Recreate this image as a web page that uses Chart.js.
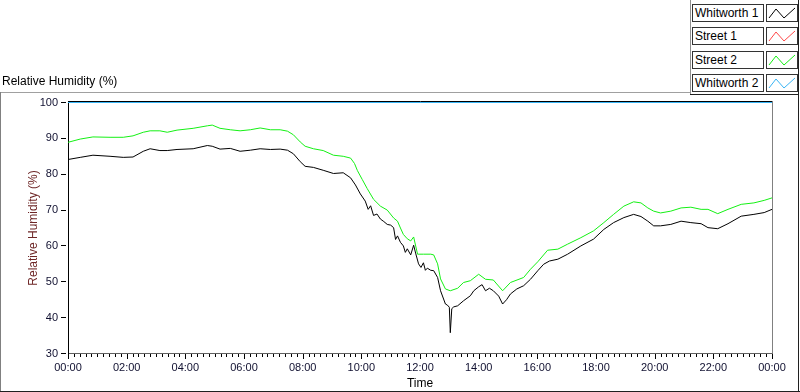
<!DOCTYPE html>
<html>
<head>
<meta charset="utf-8">
<script src="https://cdn.jsdelivr.net/npm/chart.js@4.4.1/dist/chart.umd.min.js"></script>
<style>
  html, body { margin:0; padding:0; background:#fff; }
  #wrap { position:relative; width:800px; height:392px; overflow:hidden; background:#fff; font-family:"Liberation Sans", Arial, sans-serif; }
  #c { position:absolute; left:0; top:0; }
  #title { position:absolute; left:2px; top:74px; font-size:12px; color:#000; white-space:nowrap; }
  .ln { position:absolute; }
  #legend .lbl { position:absolute; left:692px; width:68px; height:16px; border:1px solid #333; background:#fff; font-size:12px; line-height:16px; padding-left:2px; box-sizing:content-box; white-space:nowrap; color:#000; }
  #legend .sw { position:absolute; left:766px; width:30px; height:16px; border:1px solid #333; background:#fff; }
</style>
</head>
<body>
<div id="wrap">
  <canvas id="c" width="800" height="392"></canvas>
  <div id="title">Relative Humidity (%)</div>
  <div class="ln" style="left:0;top:92px;width:690px;height:1px;background:#a0a0a0"></div>
  <div class="ln" style="left:0;top:92px;width:1px;height:300px;background:#808080"></div>
  <div class="ln" style="left:0;top:391px;width:800px;height:1px;background:#202020"></div>
  <div class="ln" style="left:798px;top:0;width:1px;height:392px;background:#202020"></div>
  <div class="ln" style="left:690px;top:0;width:1px;height:94px;background:#909090"></div>
  <div class="ln" style="left:690px;top:94px;width:109px;height:1px;background:#202020"></div>
  <div id="legend"></div>
</div>
<script>
// ---- data (time in minutes since 00:00) ----
const seriesNames = ['Whitworth 1', 'Street 1', 'Street 2', 'Whitworth 2'];
const seriesColors = ['#000000', '#ff4848', '#14f014', '#38b4f4'];

const whitworth1Times = [0,25,51,86,113,133,154,168,188,203,223,256,285,295,311,332,352,373,393,414,434,449,461,475,485,502,522,543,563,578,588,598,608,614,619,625,632,639,646,653,660,666,670,674,680,686,690,694,701,707,711,717,722,727,731,735,742,748,756,762,772,776,780,782,785,789,797,809,823,830,840,847,854,862,870,881,889,897,905,918,932,946,961,973,985,1002,1022,1049,1075,1096,1116,1137,1157,1172,1186,1198,1212,1233,1254,1274,1295,1309,1329,1350,1377,1403,1424,1440];
const whitworth1Values = [84.1,84.7,85.3,85.0,84.7,84.8,86.4,87.1,86.6,86.6,86.9,87.1,88.0,87.8,87.0,87.2,86.4,86.7,87.1,86.9,87.0,86.7,85.7,83.5,82.2,81.9,81.1,80.2,80.4,79.0,77.0,74.5,72.5,70.2,71.2,68.5,68.9,67.5,66.8,66.0,65.8,65.1,61.8,62.8,61.0,60.0,58.2,59.2,57.5,60.2,58.0,55.0,54.0,55.3,53.2,53.8,53.2,53.1,51.2,47.5,43.8,43.5,42.9,35.8,42.5,43.0,43.3,44.7,46.1,47.5,48.6,49.2,47.5,48.2,47.5,46.0,43.8,45.0,46.6,48.0,48.9,50.7,53.1,54.9,55.8,56.3,57.7,60.0,61.9,64.6,66.5,67.9,68.8,68.2,66.9,65.6,65.6,66.0,66.9,66.5,66.2,65.1,64.8,66.2,68.3,68.8,69.3,70.2];

const street1Times = [];
const street1Values = [];

const street2Times = [0,25,51,86,113,133,154,168,188,203,223,256,285,295,311,332,352,373,393,414,434,449,461,475,485,502,522,543,563,578,586,592,602,612,625,639,653,666,674,680,686,694,701,707,715,727,742,748,756,762,772,782,797,809,823,840,854,870,889,905,932,946,961,981,1002,1022,1049,1075,1096,1116,1137,1157,1172,1186,1198,1212,1233,1254,1274,1295,1309,1329,1350,1377,1403,1424,1440];
const street2Values = [88.9,89.8,90.4,90.3,90.3,90.7,91.7,92.1,92.1,91.7,92.3,92.8,93.5,93.7,92.8,92.4,92.1,92.4,92.9,92.4,92.4,92.0,91.0,89.0,87.8,87.1,86.6,85.3,85.0,84.5,83.0,81.0,78.5,76.0,73.0,71.1,70.0,67.8,66.9,65.0,63.2,62.0,61.4,62.5,57.7,57.7,57.7,57.5,55.0,50.8,48.0,47.5,48.2,49.8,50.3,52.1,50.7,50.5,47.5,49.8,51.2,53.5,55.6,58.8,59.1,60.5,62.3,64.2,66.5,68.8,71.1,72.3,72.0,70.6,69.7,69.2,69.7,70.6,70.8,70.2,70.2,69.0,70.2,71.6,72.0,72.7,73.4];

const whitworth2Times = [0, 1440];
const whitworth2Values = [100, 100];

const yTickValues = [30, 40, 50, 60, 70, 80, 90, 100];
const xMajorStep = 120;   // minutes between labelled ticks
const xMinorStep = 12;    // minutes between minor ticks

// ---- helpers ----
const toPts = (ts, vs) => ts.map((t, i) => ({ x: t, y: vs[i] }));
const fmtTime = m => String(Math.floor((m % 1440) / 60)).padStart(2, '0') + ':' + String(m % 60).padStart(2, '0');

// ---- legend (HTML) ----
(function buildLegend() {
  const lg = document.getElementById('legend');
  seriesNames.forEach((name, i) => {
    const top = 4 + i * 23.3;
    const l = document.createElement('div');
    l.className = 'lbl'; l.style.top = top + 'px'; l.textContent = name;
    const s = document.createElement('div');
    s.className = 'sw'; s.style.top = top + 'px';
    s.innerHTML = '<svg width="30" height="16"><polyline points="2,13 9,4 17,13 28,3" fill="none" stroke="' + seriesColors[i] + '" stroke-width="1"/></svg>';
    lg.appendChild(l); lg.appendChild(s);
  });
})();

// ---- plugin: frame and tick marks ----
const axisMarks = {
  id: 'axisMarks',
  afterDraw(chart) {
    const { ctx, chartArea: a, scales: { x, y } } = chart;
    ctx.save();
    ctx.lineWidth = 1;
    const topRow = Math.floor(a.top) - 1;
    // top frame
    ctx.strokeStyle = '#000';
    ctx.beginPath(); ctx.moveTo(a.left, topRow + 0.5); ctx.lineTo(Math.round(a.right) + 1, topRow + 0.5); ctx.stroke();
    // right frame
    ctx.strokeStyle = '#808080';
    ctx.beginPath(); ctx.moveTo(Math.round(a.right) + 0.5, topRow); ctx.lineTo(Math.round(a.right) + 0.5, a.bottom); ctx.stroke();
    // y tick dashes
    ctx.strokeStyle = '#000';
    yTickValues.forEach(v => {
      const py = Math.floor(y.getPixelForValue(v)) + 0.5;
      ctx.beginPath(); ctx.moveTo(a.left - 7, py); ctx.lineTo(a.left - 2, py); ctx.stroke();
    });
    // x ticks
    for (let m = x.min; m <= x.max; m += xMinorStep) {
      const px = Math.round(x.getPixelForValue(m)) + 0.5;
      const len = (m % xMajorStep === 0) ? 5 : 3;
      ctx.beginPath(); ctx.moveTo(px, Math.round(a.bottom)); ctx.lineTo(px, Math.round(a.bottom) + len); ctx.stroke();
    }
    ctx.restore();
  }
};

const datasets = [
  [whitworth1Times, whitworth1Values],
  [street1Times, street1Values],
  [street2Times, street2Values],
  [whitworth2Times, whitworth2Values]
].map(([ts, vs], i) => ({
  label: seriesNames[i],
  data: toPts(ts, vs),
  borderColor: seriesColors[i],
  backgroundColor: seriesColors[i],
  borderWidth: 1,
  pointRadius: 0,
  tension: 0,
  fill: false,
  clip: 2
}));
datasets[0].order = 1; datasets[1].order = 2; datasets[2].order = 3; datasets[3].order = 4;

new Chart(document.getElementById('c'), {
  type: 'line',
  data: { datasets },
  options: {
    responsive: false,
    animation: false,
    events: [],
    layout: { padding: { top: 102.5, right: 28, left: 0, bottom: 0 } },
    plugins: { legend: { display: false }, tooltip: { enabled: false }, title: { display: false } },
    scales: {
      x: {
        type: 'linear',
        min: 0, max: 1440,
        afterFit: s => { s.height = 38.5; },
        grid: { display: true, drawOnChartArea: false, drawTicks: false },
        border: { display: true, color: '#606060', width: 1 },
        ticks: {
          stepSize: xMajorStep,
          padding: 8,
          maxRotation: 0,
          autoSkip: false,
          color: '#101030',
          font: { family: 'Liberation Sans', size: 11 },
          callback: v => fmtTime(v)
        },
        title: { display: true, text: 'Time', color: '#000', font: { family: 'Liberation Sans', size: 12 }, padding: { top: 0, bottom: 1 } }
      },
      y: {
        min: 30, max: 100,
        afterFit: s => { s.width = 68; },
        grid: { display: true, drawOnChartArea: false, drawTicks: false },
        border: { display: true, color: '#000', width: 1 },
        afterBuildTicks: s => { s.ticks = yTickValues.map(v => ({ value: v })); },
        ticks: {
          padding: 10,
          color: '#101030',
          font: { family: 'Liberation Sans', size: 11 }
        },
        title: { display: true, text: 'Relative Humidity (%)', color: '#6e2626', font: { family: 'Liberation Sans', size: 12 }, padding: { top: 26, bottom: 0 } }
      }
    }
  },
  plugins: [axisMarks]
});
</script>
</body>
</html>
